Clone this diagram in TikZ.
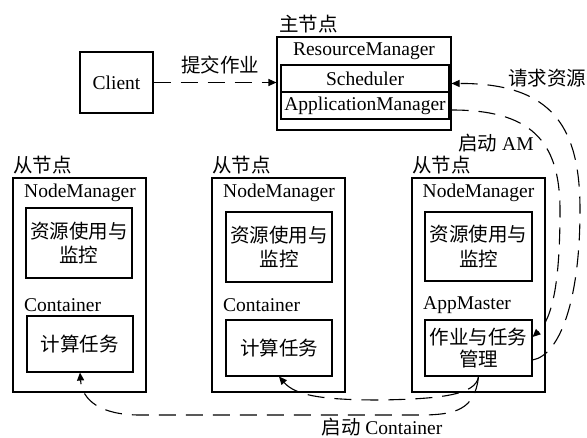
\documentclass[tikz,border=0pt]{standalone}
\usepackage{fontspec}
\setmainfont{Liberation Serif}
\newfontfamily\cjk{Noto Sans CJK SC}
\usetikzlibrary{arrows.meta,calc}
\begin{document}
\begin{tikzpicture}[x=1pt,y=-1pt,
  every node/.style={font=\fontsize{19.5pt}{24pt}\selectfont, inner sep=0pt},
  cj/.style={font=\fontsize{19.5pt}{24.5pt}\selectfont\cjk},
  box/.style={draw, line width=1.1pt},
  dl/.style={line width=1.1pt, dash pattern=on 17pt off 10pt},
  tip/.style={-{Triangle[length=8pt,width=7pt]}}
]
\useasboundingbox (0,0) rectangle (587,438);

% client
\node[box, minimum width=73pt, minimum height=61pt] (client) at (116.5,82.5) {Client};

% master
\node[cj, anchor=west] (mlbl) at (279,24) {主节点};
\node[box, minimum width=174pt, minimum height=93pt] (m) at (364,83.5) {};
\node (rm) at (364,51) {ResourceManager};
\node[box, minimum width=168pt, minimum height=27pt] (sched) at (365,78.5) {Scheduler};
\node[box, minimum width=168pt, minimum height=27pt] (app) at (365,105.5) {ApplicationManager};

% slave 1
\node[cj, anchor=west] (s1lbl) at (13,165) {从节点};
\node[box, minimum width=133pt, minimum height=214pt] (s1) at (79.5,285) {};
\node (s1nm) at (80,193) {NodeManager};
\node[box, cj, align=center, minimum width=106pt, minimum height=70pt] (r1) at (79,243) {资源使用与\\监控};
\node[anchor=west] (s1cl) at (24,305) {Container};
\node[box, cj, minimum width=106pt, minimum height=56pt] (c1) at (80,344) {计算任务};

% slave 2
\node[cj, anchor=west] (s2lbl) at (212,165) {从节点};
\node[box, minimum width=133pt, minimum height=214pt] (s2) at (278.5,285) {};
\node (s2nm) at (279,193) {NodeManager};
\node[box, cj, align=center, minimum width=106pt, minimum height=70pt] (r2) at (279,247) {资源使用与\\监控};
\node[anchor=west] (s2cl) at (223,305) {Container};
\node[box, cj, minimum width=106pt, minimum height=56pt] (c2) at (279,348) {计算任务};

% slave 3
\node[cj, anchor=west] (s3lbl) at (412,165) {从节点};
\node[box, minimum width=133pt, minimum height=214pt] (s3) at (478.5,285) {};
\node (s3nm) at (478.5,193) {NodeManager};
\node[box, cj, align=center, minimum width=107pt, minimum height=69pt] (r3) at (478.5,246.5) {资源使用与\\监控};
\node[anchor=west] (s3am) at (423,305) {AppMaster};
\node[box, cj, align=center, font=\fontsize{19.5pt}{22pt}\selectfont\cjk, minimum width=107pt, minimum height=56pt] (t3) at (478.5,348) {作业与任务\\管理};

% labels
\node[cj] (l1) at (220,65) {提交作业};
\node[cj] (l2) at (547,78) {请求资源};
\node (l3) at (496,143) {{\cjk 启动} AM};
\node (l4) at (382,427) {{\cjk 启动} Container};

% connectors
\draw[dl, tip] (client.east) -- (client.east -| m.west);
\draw[dl, tip] ([yshift=-12pt]t3.east) .. controls (560,355) and (580,300) .. (580,210)
   .. controls (580,130) and (555,83) .. (m.east);
\draw[dl, tip] ($(app.east -| m.east)+(0,4.5)$) .. controls (530,110) and (560,140) .. (560,210)
   .. controls (560,280) and (553,318) .. ([yshift=11pt]t3.east);
\draw[dl, tip] (t3.south) .. controls (476,395) and (440,399) .. (380,400)
   .. controls (320,400) and (295,395) .. (c2.south);
\draw[dl, tip] (t3.south) .. controls (475,410) and (455,415) .. (420,415) -- (140,415)
   .. controls (100,415) and (82,400) .. (c1.south);
\end{tikzpicture}
\end{document}
